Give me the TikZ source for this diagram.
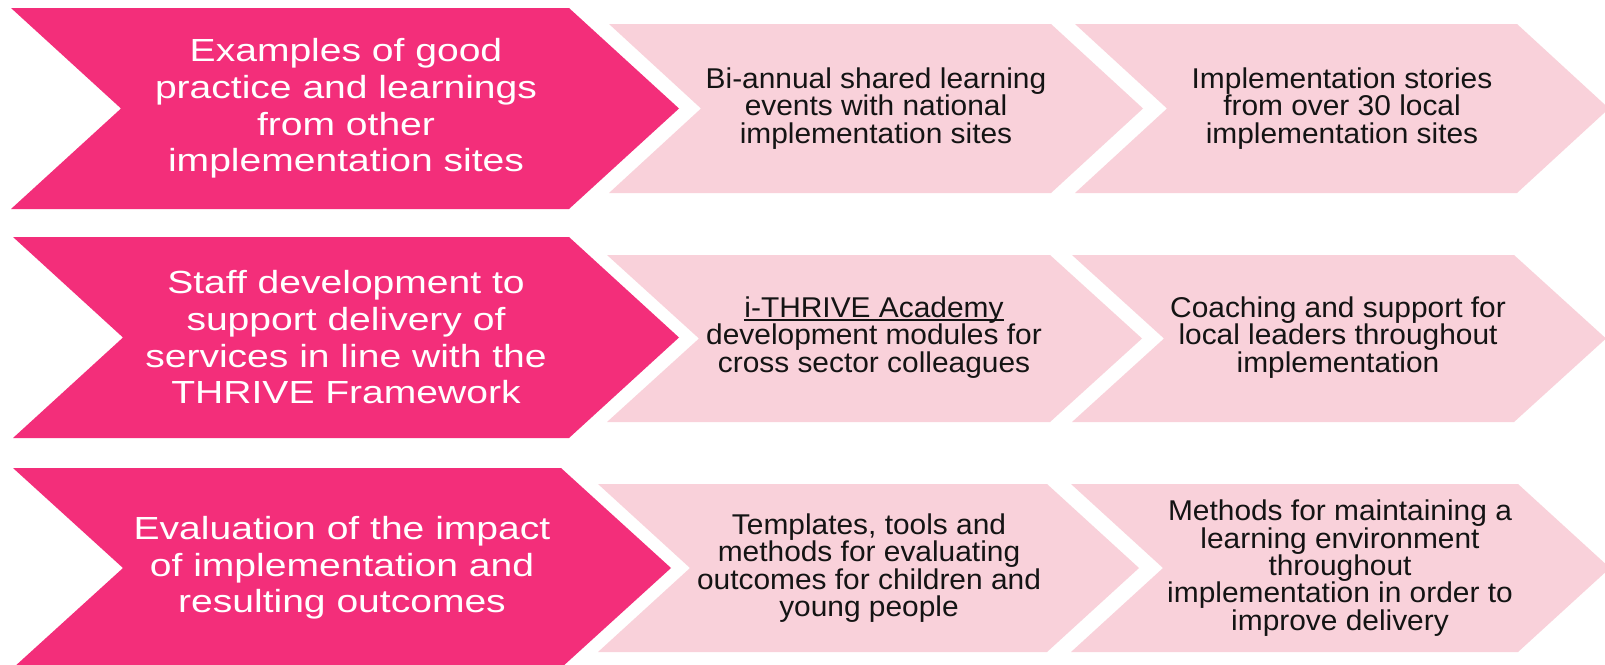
\documentclass[tikz,border=0pt]{standalone}
\usepackage{fontspec}
\setmainfont{Liberation Sans}
\newfontfamily\bigf[FakeStretch=1.22]{Liberation Sans}
\newfontfamily\smallf[FakeStretch=1.045]{Liberation Sans}
\definecolor{hotpink}{RGB}{243,46,122}
\definecolor{palepink}{RGB}{249,209,218}
\definecolor{darktext}{RGB}{20,20,20}
\newcommand{\myuline}[1]{\leavevmode\setbox0=\hbox{#1}\rlap{\rule[-0.11em]{\wd0}{0.07em}}\box0}
\newcommand{\chevshape}[6]{%
  \fill[#1] (#2,#4) -- (#3,#4) -- ({#3+#6},{(#4+#5)/2}) -- (#3,#5) -- (#2,#5) -- ({#2+#6},{(#4+#5)/2}) -- cycle;}
\tikzset{
  bigtxt/.style={text=white, align=center, font=\bigf\fontsize{16pt}{18.35pt}\selectfont, inner sep=0pt},
  smalltxt/.style={text=darktext, align=center, font=\smallf\fontsize{14.3pt}{13.7pt}\selectfont, inner sep=0pt},
  bigchev/.style={fill=hotpink},
  smallchev/.style={fill=palepink}
}
\begin{document}
\begin{tikzpicture}[x=0.5pt,y=-0.5pt]
\useasboundingbox[fill=white] (0,0) rectangle (1605,664);
% row 1
\chevshape{bigchev}{11}{569}{8}{209}{110}
\chevshape{smallchev}{609}{1051}{24}{193}{92}
\chevshape{smallchev}{1075}{1517}{24}{193}{92}
% row 2
\chevshape{bigchev}{13}{569}{237}{438}{110}
\chevshape{smallchev}{607}{1050}{255}{422}{92}
\chevshape{smallchev}{1072}{1514}{255}{422}{92}
% row 3
\chevshape{bigchev}{13}{561}{468}{668}{110}
\chevshape{smallchev}{598}{1047}{484}{652}{92}
\chevshape{smallchev}{1071}{1518}{484}{652}{92}
% texts
\node[bigtxt] (b1) at (346,108.5) {Examples of good\\practice and learnings\\from other\\implementation sites};
\node[smalltxt] (s11) at (876,108.5) {Bi-annual shared learning\\events with national\\implementation sites};
\node[smalltxt] (s12) at (1342,108.5) {Implementation stories\\from over 30 local\\implementation sites};
\node[bigtxt] (b2) at (346,337.5) {Staff development to\\support delivery of\\services in line with the\\THRIVE Framework};
\node[smalltxt] (s21) at (874,337.5) {\myuline{i-THRIVE Academy}\\development modules for\\cross sector colleagues};
\node[smalltxt] (s22) at (1338,337.5) {Coaching and support for\\local leaders throughout\\implementation};
\node[bigtxt] (b3) at (342,568) {Evaluation of the impact\\of implementation and\\resulting outcomes};
\node[smalltxt] (s31) at (869,568) {Templates, tools and\\methods for evaluating\\outcomes for children and\\young people};
\node[smalltxt] (s32) at (1340,568) {Methods for maintaining a\\learning environment\\throughout\\implementation in order to\\improve delivery};
\end{tikzpicture}
\end{document}
